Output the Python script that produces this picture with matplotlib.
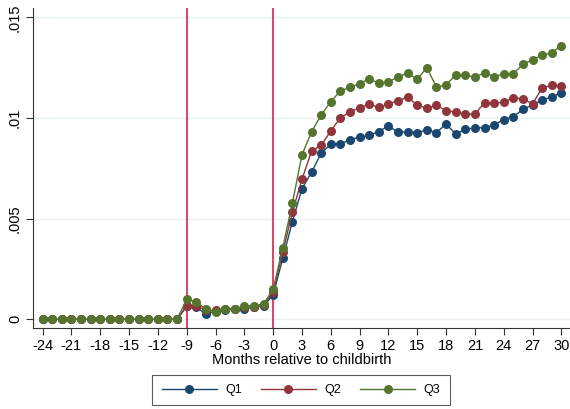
import matplotlib
matplotlib.use("Agg")
import matplotlib.pyplot as plt
import numpy as np

plt.rcParams['font.family'] = ['Liberation Sans', 'DejaVu Sans']

months = list(range(-24, 31))
pre = [0.0] * 15  # months -24 .. -10

q1_post = [0.00065, 0.0006, 0.00026, 0.0004, 0.00045, 0.0005, 0.00053, 0.0006, 0.00066,
           0.00122, 0.00303, 0.00485, 0.00649, 0.00731, 0.00826, 0.0087, 0.00871, 0.00893,
           0.00905, 0.00915, 0.00933, 0.00962, 0.00929, 0.00933, 0.00928, 0.00941, 0.00928,
           0.00971, 0.00921, 0.00944, 0.00952, 0.00952, 0.00967, 0.00992, 0.01007, 0.01044,
           0.01065, 0.0109, 0.01105, 0.01126]
q2_post = [0.00068, 0.00068, 0.00045, 0.00045, 0.0005, 0.0005, 0.0006, 0.00063, 0.0007,
           0.00136, 0.00334, 0.00533, 0.00696, 0.00836, 0.00865, 0.00936, 0.01002, 0.0103,
           0.01052, 0.01068, 0.01054, 0.0107, 0.01087, 0.01103, 0.01065, 0.01049, 0.01064,
           0.01037, 0.0103, 0.0102, 0.01019, 0.01077, 0.01073, 0.0108, 0.011, 0.01096,
           0.0107, 0.0115, 0.01163, 0.0116]
q3_post = [0.00101, 0.00086, 0.0005, 0.00036, 0.00053, 0.00053, 0.00066, 0.00068, 0.00076,
           0.00149, 0.00356, 0.00577, 0.00818, 0.00932, 0.01015, 0.01082, 0.01135, 0.01153,
           0.01171, 0.01196, 0.01173, 0.01178, 0.01206, 0.01223, 0.01193, 0.01251, 0.01153,
           0.01165, 0.01214, 0.01213, 0.01203, 0.01226, 0.01206, 0.01219, 0.01221, 0.01267,
           0.0129, 0.01312, 0.01325, 0.0136]

q1 = pre + q1_post
q2 = pre + q2_post
q3 = pre + q3_post

series_labels = ['Q1', 'Q2', 'Q3']
colors = ['#1a476f', '#90353b', '#55752f']
vlines = [-9, 0]
xticks = list(range(-24, 31, 3))
yticks = [0, 0.005, 0.01, 0.015]
yticklabels = ['0', '.005', '.01', '.015']

fig = plt.figure(figsize=(5.70, 4.09), dpi=100)
ax = fig.add_axes([33/570, 1-328/409, 537/570, 320/409])

for y in yticks:
    ax.axhline(y, color='#eaf2f3', lw=1.0, zorder=0)

for v in vlines:
    ax.axvline(v, color='#d0103a', lw=1.1, zorder=1)

for data, lab, c in zip([q1, q2, q3], series_labels, colors):
    ax.plot(months, data, color=c, lw=1.0, marker='o', markersize=6.5,
            markeredgewidth=0, label=lab, zorder=3)

ax.set_xlim(-25.0, 30.9)
ax.set_ylim(-0.00043, 0.01547)
ax.set_xticks(xticks)
ax.set_xticklabels([str(t) for t in xticks], fontsize=10.5)
ax.set_yticks(yticks)
ax.set_yticklabels(yticklabels, fontsize=10.5, rotation=90, va='center')
ax.tick_params(axis='both', length=5, width=0.8, color='#333333', pad=3)
ax.set_xlabel('Months relative to childbirth', fontsize=10.5, labelpad=0)

for s in ['top', 'right']:
    ax.spines[s].set_visible(False)
for s in ['left', 'bottom']:
    ax.spines[s].set_color('#333333')
    ax.spines[s].set_linewidth(0.8)

leg = fig.legend(loc='center', bbox_to_anchor=(301/570, 1-390/409), ncol=3,
                 fontsize=9, frameon=True, fancybox=False, edgecolor='#333333',
                 handlelength=4.4, columnspacing=1.5, handletextpad=0.7,
                 borderpad=0.75)
leg.get_frame().set_linewidth(0.8)

fig.savefig('out.png', dpi=100)
